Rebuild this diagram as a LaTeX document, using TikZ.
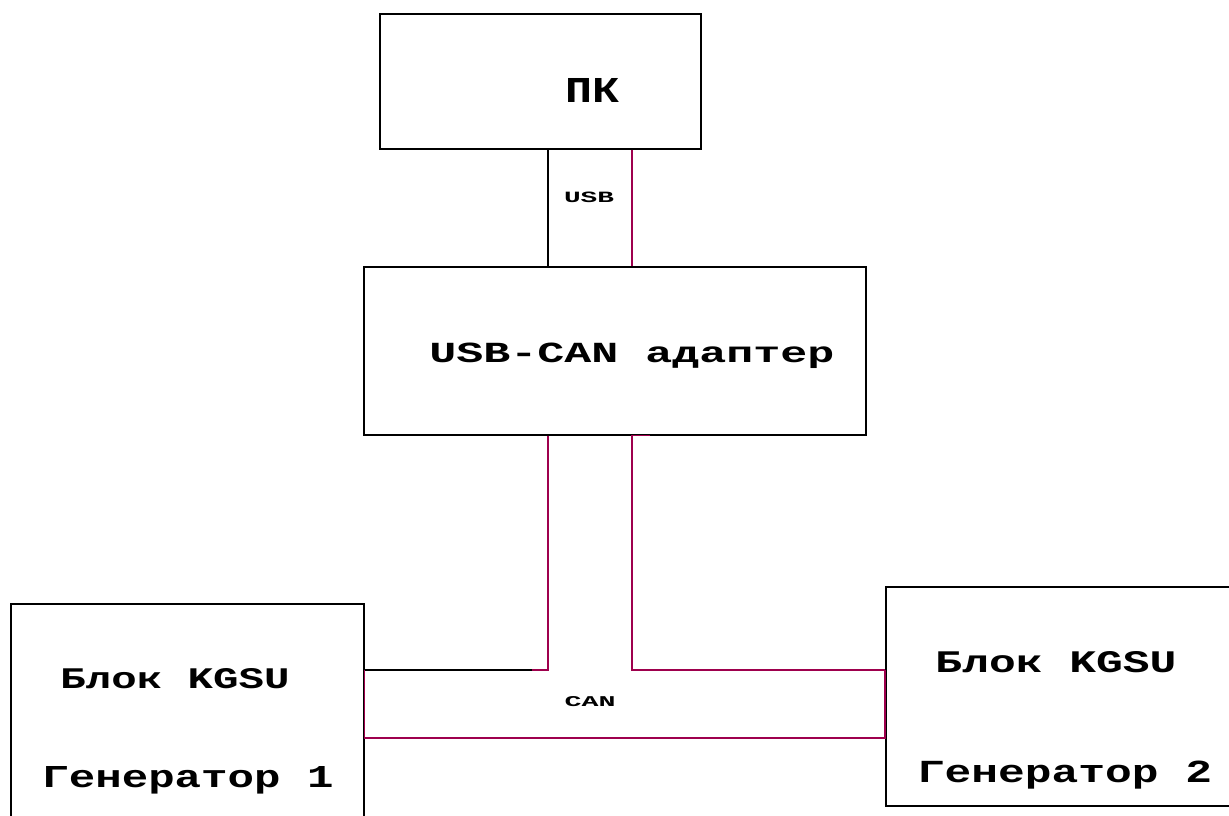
\documentclass[tikz,border=0pt]{standalone}
\usepackage{fontspec}
\setmonofont{Liberation Mono}
\usetikzlibrary{calc}
\definecolor{wire}{RGB}{158,0,77}
% wide bold monospace label, stretched to a given ink box
\newcommand{\lbl}[3]{\resizebox{#1pt}{#2pt}{\ttfamily\bfseries #3}}
\begin{document}
\begin{tikzpicture}[x=1pt,y=-1pt,
  block/.style={draw=black, line width=1.6pt, inner sep=0pt, anchor=north west},
  txt/.style={inner sep=0pt, anchor=base, text=black},
  cable/.style={line width=1.5pt, line cap=butt, line join=miter},
  sig/.style={cable, draw=wire}]
\useasboundingbox (0,0) rectangle (1229,816);
\clip (0,0) rectangle (1229,816);

% blocks
\node[block, minimum width=321pt, minimum height=135pt] (pc) at (379,13) {};
\node[block, minimum width=502pt, minimum height=168pt] (adapter) at (363,266) {};
\node[block, minimum width=353pt, minimum height=240pt] (gen1) at (10,603) {};
\node[block, minimum width=360pt, minimum height=219pt] (gen2) at (885,586) {};

% block captions
\node[txt] (pcT) at (592,102) {\lbl{54}{24}{ПК}};
\node[txt] (adT) at (632,362) {\lbl{405}{19.5}{USB-CAN адаптер}};
\node[txt] (g1a) at (175,688) {\lbl{229}{20}{Блок KGSU}};
\node[txt] (g1b) at (188,787) {\lbl{291}{21}{Генератор 1}};
\node[txt] (g2a) at (1056,672) {\lbl{241}{21}{Блок KGSU}};
\node[txt] (g2b) at (1065,782) {\lbl{294}{21.5}{Генератор 2}};

% cable labels
\node[txt] (usbT) at (589,202) {\lbl{50}{10.5}{USB}};
\node[txt] (canT) at (590,706) {\lbl{51}{10}{CAN}};

% wire columns and bus levels
\coordinate (xl) at (548,0);
\coordinate (xr) at (632,0);
\coordinate (busT) at (0,670);
\coordinate (busB) at (0,738);

% USB link
\draw[cable, draw=black] (pc.south -| xl) -- (adapter.north -| xl);
\draw[sig] (pc.south -| xr) -- (adapter.north -| xr);

% CAN bus
\draw[cable, draw=black] (gen1.east |- busT) -- (xl |- busT);
\draw[sig] (adapter.south -| xl) -- (xl |- busT) -- ($(xl |- busT)+(-16,0)$);
\draw[sig] ($(adapter.south -| xr)+(18,0)$) -- (adapter.south -| xr) -- (xr |- busT) -- (gen2.west |- busT);
\draw[sig] (gen1.east |- busT) -- (gen1.east |- busB) -- (gen2.west |- busB) -- (gen2.west |- busT);
\end{tikzpicture}
\end{document}
